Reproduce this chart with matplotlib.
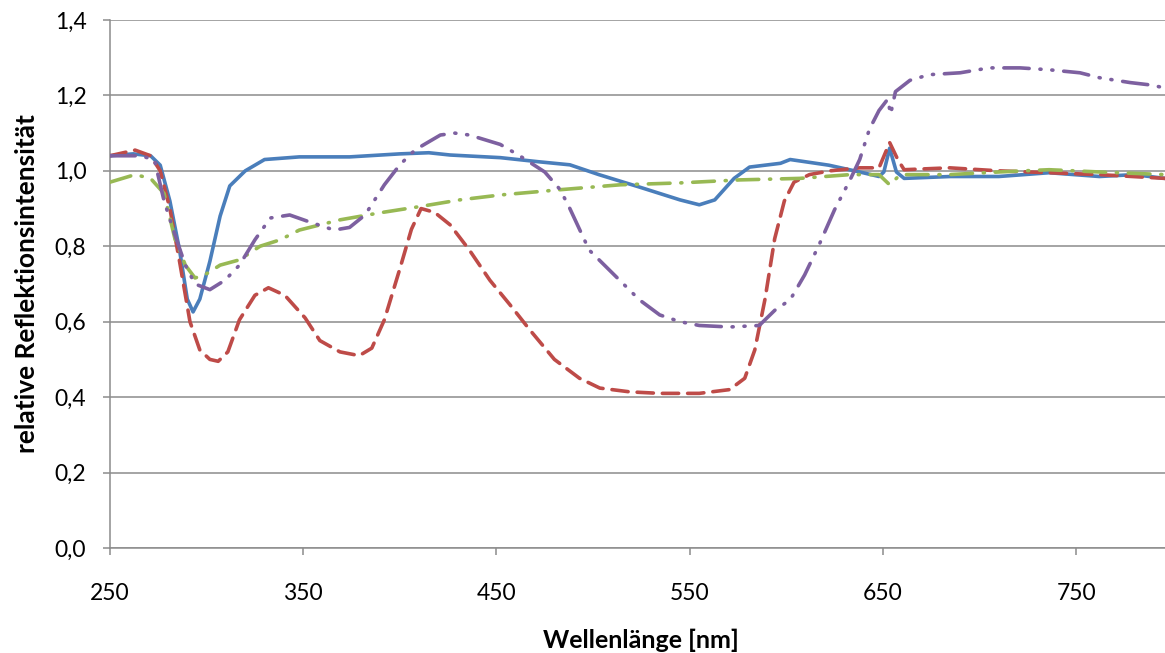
import numpy as np
import matplotlib.pyplot as plt

plt.rcParams['font.family'] = ['Lato', 'DejaVu Sans']

# wavelength [nm] / relative reflection intensity
blue_x = [250, 262, 271, 276, 281, 286, 290, 293, 296.5, 301.7, 307, 312, 320, 330, 348, 374, 400,
          415, 426, 452, 472, 488, 503, 524, 545, 555, 563, 573, 581, 597, 602, 622, 638, 648,
          650.5, 653.5, 657, 661, 685, 710, 736, 762, 780, 796]
blue_y = [1.04, 1.045, 1.04, 1.015, 0.92, 0.79, 0.66, 0.626, 0.66, 0.76, 0.88, 0.96, 1.00, 1.03,
          1.037, 1.037, 1.045, 1.048, 1.042, 1.035, 1.024, 1.016, 0.99, 0.957, 0.923, 0.91, 0.923,
          0.98, 1.01, 1.02, 1.03, 1.015, 0.997, 0.985, 0.997, 1.06, 0.997, 0.98, 0.985, 0.985,
          0.995, 0.985, 0.99, 0.98]

red_x = [250, 263, 271, 276, 281, 286, 291.4, 296.5, 301.7, 306, 311, 317, 325, 332, 340.5, 351,
         358.6, 369, 379, 385.5, 392, 400, 406, 411, 418, 426, 436, 446.6, 457, 467, 480, 493,
         503.5, 519, 534.5, 555, 570.7, 578.5, 583.7, 589, 594, 599, 604, 612, 622.5, 638, 648,
         653.5, 657.7, 661, 684.5, 710, 736, 762, 796]
red_y = [1.04, 1.055, 1.04, 1.0, 0.90, 0.76, 0.60, 0.525, 0.50, 0.495, 0.52, 0.605, 0.67, 0.69,
         0.67, 0.61, 0.55, 0.52, 0.51, 0.53, 0.605, 0.74, 0.845, 0.90, 0.89, 0.857, 0.79, 0.71,
         0.645, 0.58, 0.50, 0.45, 0.424, 0.414, 0.41, 0.41, 0.42, 0.45, 0.525, 0.66, 0.82, 0.92,
         0.97, 0.99, 1.0, 1.008, 1.008, 1.075, 1.03, 1.003, 1.008, 1.0, 0.995, 0.99, 0.98]

green_x = [250, 263, 271, 278, 283.6, 289, 294, 299, 307, 317, 327.6, 338, 348, 369, 390, 410, 431,
           452, 483, 514, 545, 576, 607, 633, 648, 653.5, 659, 684.5, 710, 736, 762, 796]
green_y = [0.97, 0.99, 0.98, 0.94, 0.82, 0.75, 0.716, 0.724, 0.75, 0.764, 0.80, 0.817, 0.843, 0.87,
           0.889, 0.905, 0.923, 0.936, 0.95, 0.963, 0.968, 0.976, 0.98, 0.99, 0.99, 0.963, 0.99,
           0.99, 0.997, 1.003, 0.997, 0.99]

purple_x = [250, 265.5, 273, 278, 283.6, 289, 294, 301.7, 309.5, 317, 325, 333, 343, 353, 366, 374,
            382, 392, 400, 408, 421, 428.5, 436, 452, 462, 475, 483, 488, 498, 511, 524, 534.5,
            545, 555, 570.7, 586, 594, 602, 609.5, 617, 625, 633, 638, 643, 648, 652.5, 654,
            656.5, 664, 674, 690, 705, 721, 736, 752, 762, 778, 788, 796]
purple_y = [1.04, 1.04, 1.03, 0.92, 0.83, 0.75, 0.70, 0.685, 0.71, 0.75, 0.817, 0.875, 0.883,
            0.865, 0.843, 0.85, 0.883, 0.963, 1.016, 1.056, 1.095, 1.10, 1.095, 1.07, 1.04, 0.997,
            0.95, 0.90, 0.79, 0.724, 0.658, 0.618, 0.60, 0.59, 0.586, 0.59, 0.63, 0.658, 0.724,
            0.804, 0.897, 0.976, 1.03, 1.11, 1.16, 1.19, 1.15, 1.21, 1.24, 1.255, 1.26, 1.273,
            1.273, 1.268, 1.26, 1.247, 1.234, 1.228, 1.22]

fig = plt.figure(figsize=(11.65, 6.53), dpi=100)
ax = fig.add_axes([0.0944, 0.1608, 0.9056, 0.8086])

lw = 2.6
ax.plot(blue_x, blue_y, color='#4A7EBB', lw=lw, solid_capstyle='round', zorder=3)
ax.plot(red_x, red_y, color='#BE4B48', lw=lw, dashes=(4.5, 2.5), dash_capstyle='round', zorder=3)
ax.plot(green_x, green_y, color='#98B954', lw=lw, dashes=(6, 3, 0.3, 3), dash_capstyle='round', zorder=3)
ax.plot(purple_x, purple_y, color='#7D60A0', lw=lw, dashes=(7, 3, 0.3, 3, 0.3, 3),
        dash_capstyle='round', zorder=3)

ax.set_xlim(250, 796)
ax.set_ylim(0, 1.4)
ax.set_xticks([250, 350, 450, 550, 650, 750])
ax.set_yticks(np.arange(0, 1.41, 0.2))
ax.set_yticklabels([f'{v:.1f}'.replace('.', ',') for v in np.arange(0, 1.41, 0.2)])

ax.grid(axis='y', color='#8C8C8C', lw=1.1)
ax.set_axisbelow(True)
for s in ['top', 'right']:
    ax.spines[s].set_visible(False)
for s in ['left', 'bottom']:
    ax.spines[s].set_color('#8C8C8C')
    ax.spines[s].set_linewidth(1.1)
ax.tick_params(axis='both', colors='#8C8C8C', labelcolor='black', labelsize=16.5, length=5, width=1.1)
ax.tick_params(axis='x', pad=20)
ax.tick_params(axis='y', pad=12)

ax.set_xlabel('Wellenlänge [nm]', fontsize=18, fontweight='bold')
ax.set_ylabel('relative Reflektionsintensität', fontsize=19, fontweight='bold')
ax.xaxis.set_label_coords(0.503, -0.174)
ax.yaxis.set_label_coords(-0.0787, 0.5)
ax.xaxis.label.set_va('center')
ax.yaxis.label.set_va('center')

fig.savefig('out.png', dpi=100)
